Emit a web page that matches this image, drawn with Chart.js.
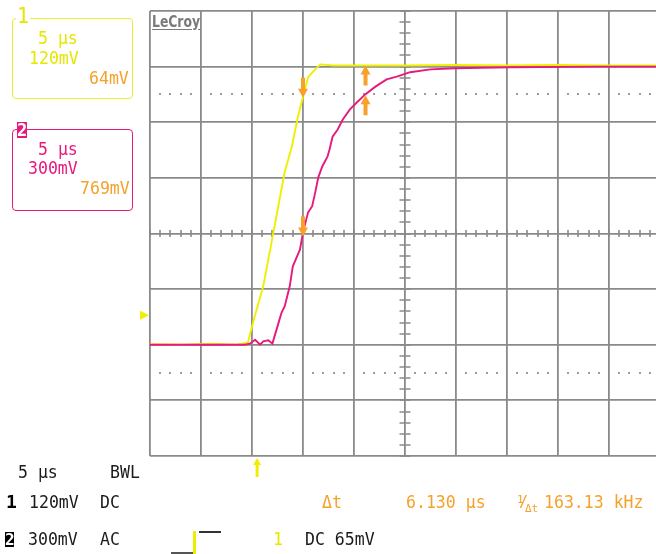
<!DOCTYPE html>
<html><head><meta charset="utf-8">
<script src="https://cdn.jsdelivr.net/npm/chart.js@4.4.1/dist/chart.umd.min.js"></script>
<style>
html,body{margin:0;padding:0;background:#fff;overflow:hidden;width:656px;height:554px;position:relative}
#wrap{position:absolute;left:0;top:0;width:662px;height:554px}
.t{position:absolute;font-family:'DejaVu Sans Mono',monospace;font-size:17.4px;line-height:17px;white-space:pre;color:#1a1a1a;transform:scaleX(0.95);transform-origin:0 0}
.y{color:#e6e600}
.m{color:#e8197d}
.o{color:#f5a12a}
.box{position:absolute;border-radius:4px;box-sizing:border-box}
</style></head><body>
<div id="wrap"><canvas id="c" width="662" height="554"></canvas></div>

<div class="box" style="left:12px;top:18px;width:121px;height:81px;border:1.3px solid #ecec30"></div>
<div class="t y" style="left:16px;top:6px;font-size:21px;line-height:21px;background:#fff;padding:0 1px">1</div>
<div class="t y" style="left:38px;top:30px">5 µs</div>
<div class="t y" style="left:29px;top:50px">120mV</div>
<div class="t o" style="left:89px;top:70px">64mV</div>

<div class="box" style="left:12px;top:129px;width:121px;height:82px;border:1.3px solid #e8197d"></div>
<div class="t" style="left:17px;top:122px;width:10px;height:16px;background:#e8197d;color:#fff;font-weight:bold;font-size:17px;line-height:17px;text-align:center;transform:none">2</div>
<div class="t m" style="left:38px;top:141px">5 µs</div>
<div class="t m" style="left:28px;top:160px">300mV</div>
<div class="t o" style="left:80px;top:180px">769mV</div>

<div class="t" style="left:152px;top:14px;font-family:'DejaVu Sans Condensed','DejaVu Sans',sans-serif;font-weight:bold;font-size:16px;line-height:16px;color:#7a7a7a;text-decoration:underline;text-underline-offset:2px;transform:scaleX(0.86)">LeCroy</div>

<div class="t" style="left:18px;top:464px">5 µs</div>
<div class="t" style="left:110px;top:464px">BWL</div>

<div class="t" style="left:6px;top:493px;font-weight:bold;font-size:18px;line-height:18px;color:#000;transform:none">1</div>
<div class="t" style="left:29px;top:494px">120mV</div>
<div class="t" style="left:100px;top:494px">DC</div>
<div class="t o" style="left:322px;top:494px">Δt</div>
<div class="t o" style="left:406px;top:494px">6.130 µs</div>
<div class="t o" style="left:517px;top:494px;width:24px;height:18px;transform:none">
  <span style="position:absolute;left:0;top:-3px;font-size:11px">1</span>
  <span style="position:absolute;left:2px;top:0;font-size:15px">/</span>
  <span style="position:absolute;left:8px;top:6px;font-size:11px">Δt</span>
</div>
<div class="t o" style="left:544px;top:494px">163.13 kHz</div>

<div class="t" style="left:5px;top:532px;width:9px;height:15px;background:#000;color:#fff;font-weight:bold;font-size:16px;line-height:15px;text-align:center;transform:none">2</div>
<div class="t" style="left:28px;top:531px">300mV</div>
<div class="t" style="left:100px;top:531px">AC</div>
<div style="position:absolute;left:171px;top:552px;width:22px;height:2px;background:#555"></div>
<div style="position:absolute;left:193px;top:531px;width:3px;height:23px;background:#eded00"></div>
<div style="position:absolute;left:199px;top:531px;width:22px;height:1.5px;background:#333"></div>
<div class="t y" style="left:273px;top:531px">1</div>
<div class="t" style="left:305px;top:531px">DC 65mV</div>

<script>
// Time axis in µs (5 µs/div), vertical axis in screen divisions
const xDivisionsUs = [-25, -20, -15, -10, -5, 0, 5, 10, 15, 20, 25];
const yDivisions = [-4, -3, -2, -1, 0, 1, 2, 3, 4];

// Channel 1 (yellow) trace
const ch1Time = [-25, -22, -19, -16.5, -15.4, -14.9, -13.9, -12.9, -11.8, -11.1, -10.5, -10.0, -9.5, -8.8, -8.3, -7.0, -3.0, 0, 5, 10, 15, 20, 25];
const ch1Div  = [-1.99, -2.0, -1.98, -2.0, -1.96, -1.6, -0.95, 0.02, 1.1, 1.56, 2.1, 2.46, 2.81, 2.95, 3.04, 3.02, 3.02, 3.02, 3.03, 3.02, 3.03, 3.02, 3.02];

// Channel 2 (magenta) trace
const ch2Time = [-25, -20, -15.7, -15.2, -14.7, -14.2, -13.9, -13.4, -13.0, -12.5, -12.1, -11.8, -11.3, -11.0, -10.3, -10.0, -9.5, -9.1, -8.8, -8.5, -8.1, -7.6, -7.4, -7.1, -6.6, -6.1, -5.4, -4.7, -3.9, -2.9, -1.8, -0.8, 0.5, 2.5, 4.9, 7.4, 10.3, 19.1, 25];
const ch2Div  = [-2.0, -2.0, -2.0, -1.98, -1.91, -2.0, -1.94, -1.92, -1.98, -1.67, -1.42, -1.31, -0.95, -0.59, -0.29, 0.02, 0.38, 0.49, 0.74, 1.01, 1.21, 1.38, 1.51, 1.74, 1.87, 2.05, 2.23, 2.36, 2.50, 2.64, 2.77, 2.82, 2.90, 2.95, 2.97, 2.98, 2.99, 3.0, 3.0];

// Measurement cursors (µs), dotted reference levels (div), markers
const cursorTimes = [-10.0, -3.87];
const dottedLevels = [2.5, -2.5];
const ch1OffsetMarker = [-1.47];
const triggerTime = [-14.5];

const YELLOW = '#f0ef00', PINK = '#e8197d', ORANGE = '#f7a12a', GRID = '#8a8a8a';

function pts(tx, vy){ return tx.map((t,i)=>({x:t, y:vy[i]})); }
function interp(tx, vy, t){
  for(let i=1;i<tx.length;i++){ if(t<=tx[i]){ const f=(t-tx[i-1])/(tx[i]-tx[i-1]); return vy[i-1]+f*(vy[i]-vy[i-1]); } }
  return vy[vy.length-1];
}
function arrow(ctx, px, tip, dir, len, hw, hh, sw){
  // dir = +1 pointing down (tip below), -1 pointing up
  const base = tip - dir*len, hb = tip - dir*hh;
  ctx.beginPath();
  ctx.moveTo(px, tip); ctx.lineTo(px-hw/2, hb); ctx.lineTo(px-sw/2, hb); ctx.lineTo(px-sw/2, base);
  ctx.lineTo(px+sw/2, base); ctx.lineTo(px+sw/2, hb); ctx.lineTo(px+hw/2, hb); ctx.closePath(); ctx.fill();
}

const scopePlugin = {
  id:'scope',
  beforeDatasetsDraw(chart){
    const {ctx, chartArea:a, scales:{x, y}} = chart;
    ctx.save();
    ctx.fillStyle = '#9c9c9c';
    for(const lv of dottedLevels){
      const py = y.getPixelForValue(lv);
      for(let t=-25; t<=25; t+=1){ if(t%5===0) continue; const px=x.getPixelForValue(t); ctx.fillRect(Math.round(px)-1, Math.round(py)-1, 2, 2); }
    }
    ctx.strokeStyle = GRID; ctx.lineWidth = 1.6;
    const y0 = y.getPixelForValue(0), x0 = x.getPixelForValue(0);
    ctx.beginPath();
    for(let t=-25; t<=25; t+=1){ const px=Math.round(x.getPixelForValue(t)); ctx.moveTo(px, y0-3.5); ctx.lineTo(px, y0+3.5); }
    for(let v=-20; v<=20; v+=1){ const py=Math.round(y.getPixelForValue(v/5)); ctx.moveTo(x0-5.5, py); ctx.lineTo(x0+5.5, py); }
    ctx.stroke();
    ctx.restore();
  },
  afterDatasetsDraw(chart){
    const {ctx, chartArea:a, scales:{x, y}} = chart;
    ctx.save();
    ctx.fillStyle = ORANGE;
    cursorTimes.forEach((t,i)=>{
      const px = x.getPixelForValue(t);
      const dir = i===0 ? 1 : -1;
      const t1 = y.getPixelForValue(interp(ch1Time, ch1Div, t));
      const t2 = y.getPixelForValue(interp(ch2Time, ch2Div, t));
      arrow(ctx, px, t1 + (dir>0?1:0), dir, 20, 10, 9, 4);
      arrow(ctx, px, t2 + (dir>0?4:1), dir, 20, 10, 9, 4);
    });
    ctx.fillStyle = YELLOW;
    for(const m of ch1OffsetMarker){
      const py = y.getPixelForValue(m);
      ctx.beginPath(); ctx.moveTo(a.left-10, py-4.5); ctx.lineTo(a.left-1, py); ctx.lineTo(a.left-10, py+4.5); ctx.closePath(); ctx.fill();
    }
    for(const tt of triggerTime){
      const px = x.getPixelForValue(tt);
      arrow(ctx, px, a.bottom+2, -1, 19, 8, 7, 3);
    }
    ctx.restore();
  }
};

new Chart(document.getElementById('c').getContext('2d'), {
  type:'scatter',
  data:{datasets:[
    {label:'2', data:pts(ch2Time, ch2Div), showLine:true, borderColor:PINK, backgroundColor:PINK, borderWidth:1.9, pointRadius:0, tension:0, order:0},
    {label:'1', data:pts(ch1Time, ch1Div), showLine:true, borderColor:YELLOW, backgroundColor:YELLOW, borderWidth:1.9, pointRadius:0, tension:0, order:1}
  ]},
  options:{
    responsive:false, animation:false,
    layout:{padding:{left:150, top:11, right:2, bottom:98}},
    plugins:{legend:{display:false}, tooltip:{enabled:false}},
    scales:{
      x:{type:'linear', min:xDivisionsUs[0], max:xDivisionsUs[xDivisionsUs.length-1],
         afterBuildTicks(s){ s.ticks = xDivisionsUs.map(v=>({value:v})); },
         ticks:{display:false}, grid:{color:GRID, lineWidth:1.8, drawTicks:false}, border:{display:false}},
      y:{type:'linear', min:yDivisions[0], max:yDivisions[yDivisions.length-1],
         afterBuildTicks(s){ s.ticks = yDivisions.map(v=>({value:v})); },
         ticks:{display:false}, grid:{color:GRID, lineWidth:1.8, drawTicks:false}, border:{display:false}}
    }
  },
  plugins:[scopePlugin]
});
</script>
</body></html>
